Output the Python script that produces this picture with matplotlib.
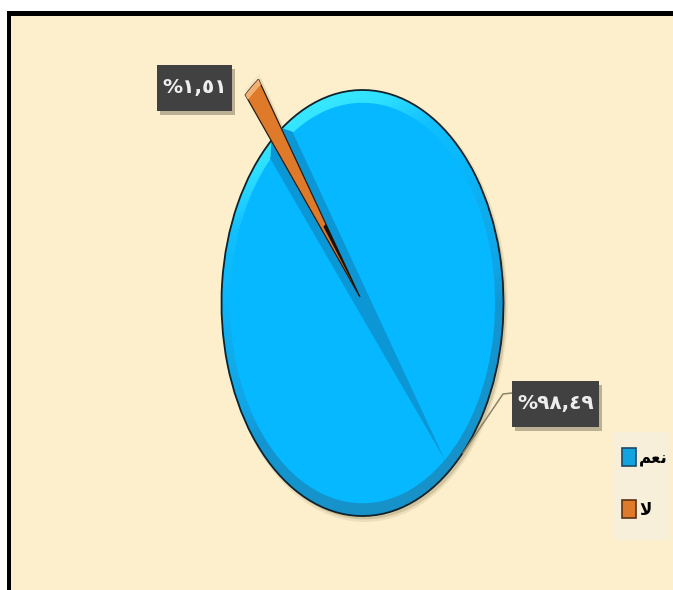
import numpy as np
import matplotlib
matplotlib.use("Agg")
import matplotlib.pyplot as plt
from matplotlib.colors import LinearSegmentedColormap
from matplotlib.patches import Arc, Ellipse, Patch, Rectangle
from matplotlib.transforms import IdentityTransform

# --- data ---
values = [98.49, 1.51]
categories = ["\uFEE2\uFECC\uFEE7", "\uFEFB"]          # نعم / لا in joined display forms
value_labels = ["%\u0669\u0668,\u0664\u0669", "%\u0661,\u0665\u0661"]  # %٩٨,٤٩ / %١,٥١

# --- style ---
W, H = 673, 590
CX, CY, RX, RY = 362.5, 303.0, 141.0, 213.0
BG = "#FDEFCC"
FACE = "#05B8FF"
ORANGE = "#DF7A2B"
START = 130.2            # angle where the large slice starts
small = values[1] / sum(values)
GAP = 360 * small


def pol(angle, r):
    a = np.radians(angle)
    return r * np.cos(a), r * np.sin(a)


fig = plt.figure(figsize=(W / 100, H / 100), dpi=100, facecolor="white")


def px_rect(x0, y0, x1, y1, zorder=1, **kw):
    fig.add_artist(Rectangle((x0, H - y1), x1 - x0, y1 - y0,
                             transform=IdentityTransform(), zorder=zorder, **kw))


px_rect(7, 11, W + 5, H + 5, zorder=-3, facecolor="black", edgecolor="none")
px_rect(11, 16, W + 5, H + 5, zorder=-2, facecolor=BG, edgecolor="none")
px_rect(613, 432, 670, 540, zorder=-1, facecolor="#F7EFDA", edgecolor="none")

ax = fig.add_axes([0, 0, 1, 1])
ax.set_zorder(5)
ax.patch.set_alpha(0)
ax.axis("off")
xlim = ((0 - CX) / RX, (W - CX) / RX)
ylim = ((CY - H) / RY, CY / RY)

# soft shadow
for grow, alpha in ((1.012, 0.10), (1.0, 0.18)):
    ax.add_patch(Ellipse((0.018, -0.016), 2 * grow, 2 * grow, facecolor="#5a4a20",
                         alpha=alpha, edgecolor="none", zorder=0.5))
for r, alpha, off in ((1.30, 0.05, 0.012), (1.27, 0.08, 0.008)):
    ax.pie([small], normalize=False, startangle=START - GAP, radius=r,
           center=(-0.004 + off, 0.02 - off), colors=["#5a4a20"],
           wedgeprops=dict(alpha=alpha, linewidth=0))

# large slice: rim (outer bevel) first
rim_wedges, _ = ax.pie(values, startangle=START, colors=[FACE, "none"],
                       wedgeprops=dict(linewidth=0))
rim_wedges[1].set_visible(False)
rim_cmap = LinearSegmentedColormap.from_list(
    "rim", [(0.0, "#1892C8"), (0.33, "#1296D2"), (0.41, "#10A5E6"), (0.58, "#0FAEEE"),
            (0.67, "#08B6FB"), (0.82, "#12C0FF"), (0.93, "#2EE0FF"), (1.0, "#38E8FF")])
gx, gy = np.meshgrid(np.linspace(-1, 1, 400), np.linspace(-1, 1, 400))
shade = np.clip((-0.35 * gx + 0.94 * gy + 1.0) / 2.0, 0, 1)
im = ax.imshow(shade, extent=(-1, 1, -1, 1), origin="lower", cmap=rim_cmap,
               vmin=0, vmax=1, aspect="auto", zorder=1.1, interpolation="bilinear")
im.set_clip_path(rim_wedges[0])

# dark filler of the notch, then flat face of the slice
ax.pie([12.3 / 360], startangle=121.7, normalize=False, radius=0.945, colors=["#0A93D2"],
       wedgeprops=dict(linewidth=0, zorder=1.2))
ax.pie([1 - 12.3 / 360], normalize=False, startangle=134.0, radius=0.94,
       colors=[FACE], wedgeprops=dict(linewidth=0, zorder=1.3))

# bevel facet that runs from the notch across the slice to the far rim
sx, sy = zip(pol(START, 1.0), pol(134.0, 0.94), pol(308.4, 0.945),
             pol(121.7, 0.945), pol(START - GAP, 1.0))
ax.fill(sx, sy, color="#0B97D6", linewidth=0, zorder=1.4)

# slice outline
ax.add_patch(Arc((0, 0), 2, 2, theta1=START, theta2=START - GAP + 360,
                 color="#10222a", linewidth=1.3, zorder=1.5))

# small slice, pulled out of the pie
mid_center = (-0.018, 0.028)
ax.pie([small], normalize=False, startangle=START - GAP + 0.4, radius=1.25,
       center=mid_center, colors=[ORANGE],
       wedgeprops=dict(linewidth=0.9, edgecolor="#2a1c10", zorder=2))
ax.pie([small], normalize=False, startangle=START - GAP + 0.4, radius=1.25,
       center=mid_center, colors=["#F3B074"],
       wedgeprops=dict(linewidth=0, width=0.03, zorder=2.1))
ax.pie([small * 0.55], normalize=False, startangle=START - GAP + 0.4, radius=0.42,
       center=mid_center, colors=["#15100a"],
       wedgeprops=dict(linewidth=0, zorder=2.2))

ax.set_xlim(*xlim)
ax.set_ylim(*ylim)
ax.set_aspect("auto")

# leader line of the large slice
lx = np.array([512, 503, 463])
ly = np.array([393, 394, 453])
fig.add_artist(plt.Line2D(lx, H - ly, transform=IdentityTransform(),
                          color="#8B8468", linewidth=1.1, zorder=7))


def label(text, x0, y0, x1, y1):
    px_rect(x0 + 3, y0 + 4, x1 + 3, y1 + 4, zorder=7, facecolor="#6e6650", alpha=0.45,
            edgecolor="none")
    px_rect(x0, y0, x1, y1, zorder=7.1, facecolor="#414141", edgecolor="none")
    fig.text((x0 + x1) / 2 / W, 1 - ((y0 + y1) / 2 - 1) / H, text, color="#EDEDED",
             fontsize=14.5, fontweight="bold", family="DejaVu Sans",
             ha="center", va="center", zorder=8)


label(value_labels[1], 157, 65, 232, 111)
label(value_labels[0], 512, 381, 599, 427)

# legend
handles = [Patch(facecolor=c, edgecolor=e, linewidth=1.2)
           for c, e in zip(["#12A4E0", ORANGE], ["#1B4A66", "#5A3314"])]
leg = fig.legend(handles, categories, loc="upper left",
                 bbox_to_anchor=(622 / W, 1 - 448 / H), bbox_transform=fig.transFigure,
                 frameon=False, handlelength=0.84, handleheight=1.26, handletextpad=0.2,
                 labelspacing=2.04, borderpad=0, borderaxespad=0, ncol=1,
                 prop=dict(family="DejaVu Sans", weight="bold", size=12))
leg.set_zorder(9)

fig.savefig("out.png", dpi=100, facecolor=fig.get_facecolor())
